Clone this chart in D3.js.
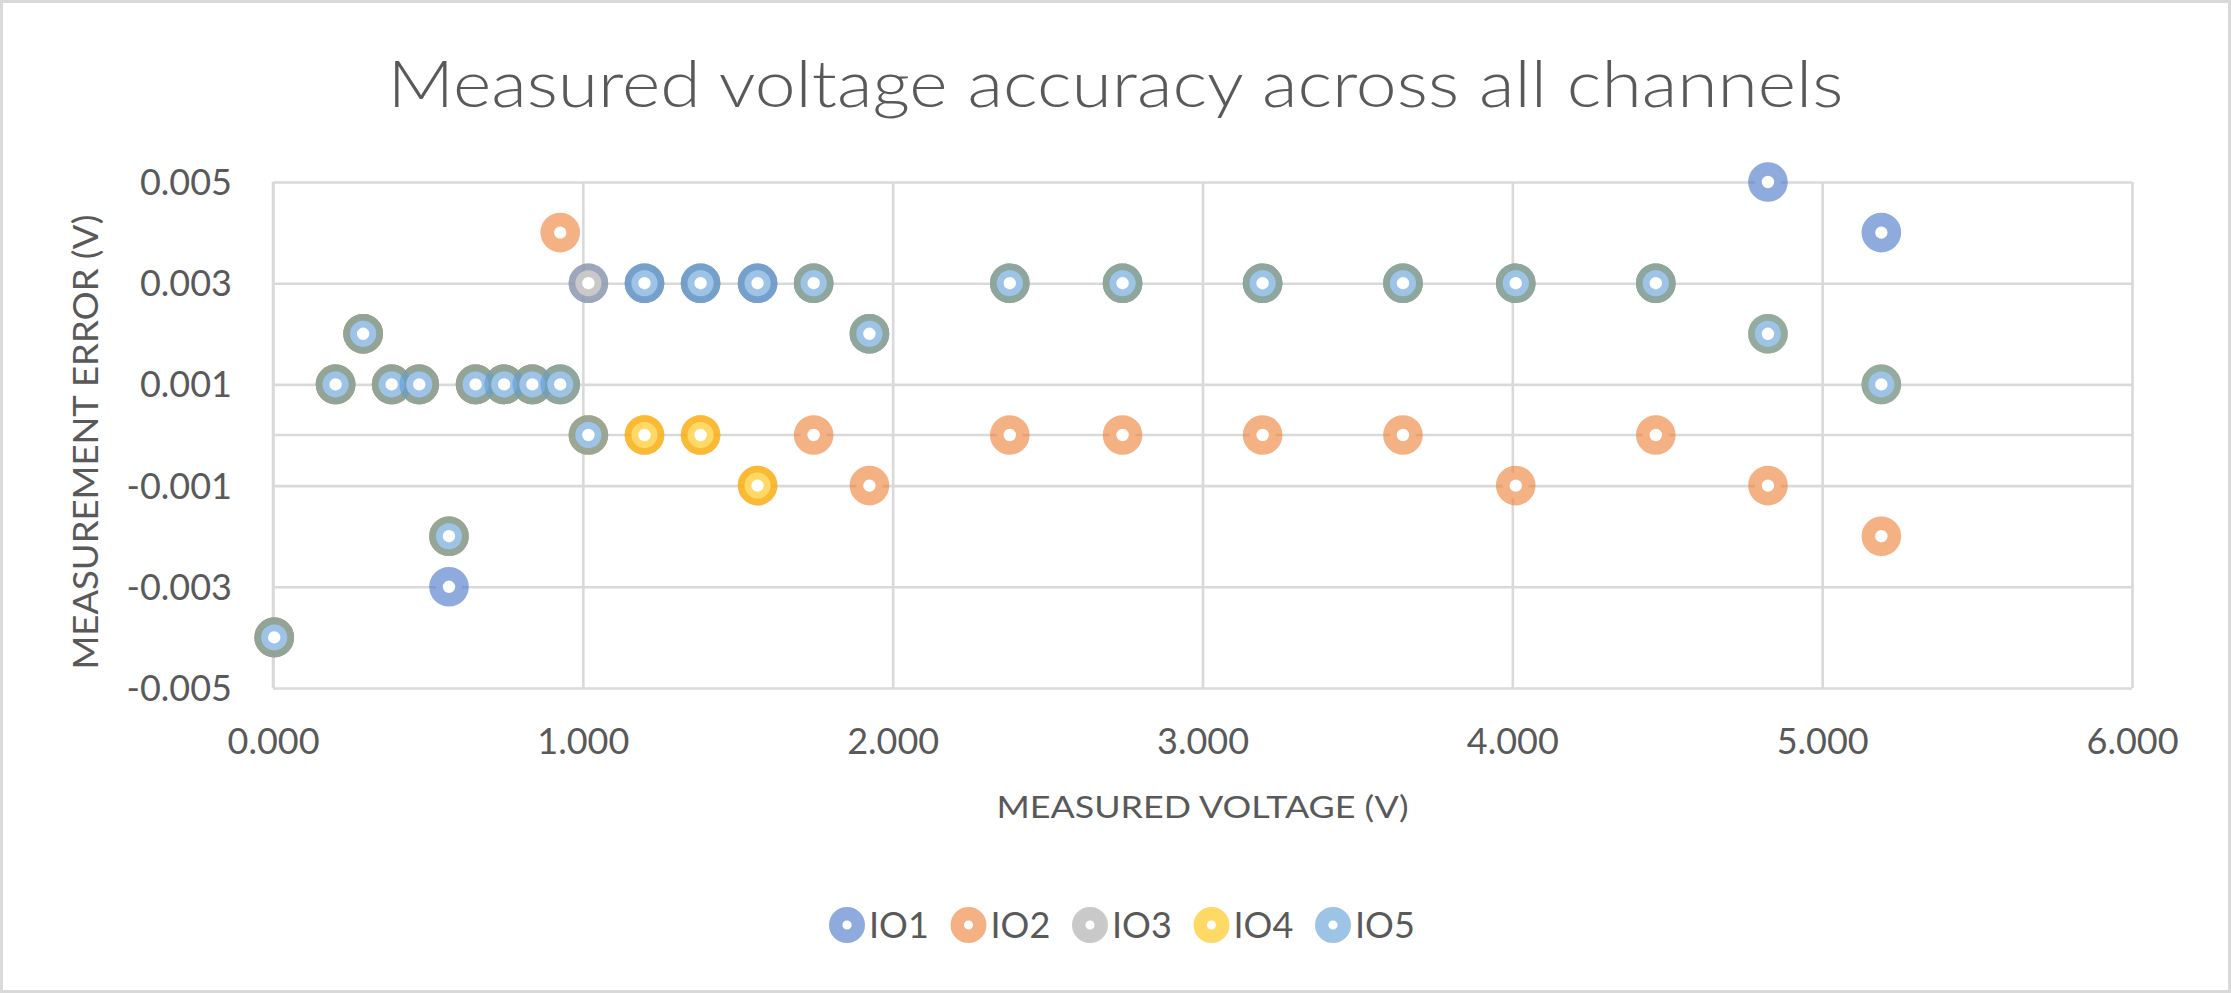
<!DOCTYPE html>
<html>
<head>
<meta charset="utf-8">
<script src="https://cdn.jsdelivr.net/npm/d3@7"></script>
<style>
  body { margin: 0; background: #fff; }
  text { font-family: Lato, "Open Sans", sans-serif; fill: #595959; }
</style>
</head>
<body>
<svg id="chart"></svg>
<script>
const W = 2231, H = 993;

// measured voltage of each test step (V), same for every channel
const voltage = [0.004, 0.202, 0.291, 0.383, 0.472, 0.568, 0.654, 0.746, 0.837, 0.927,
                 1.018, 1.199, 1.380, 1.564, 1.745, 1.925, 2.378, 2.742, 3.194, 3.647,
                 4.011, 4.463, 4.825, 5.191];

// measurement error per channel (V)
const io1 = [-0.004, 0.001, 0.002, 0.001, 0.001, -0.003, 0.001, 0.001, 0.001, 0.001,
             0.003, 0.003, 0.003, 0.003, 0.003, 0.002, 0.003, 0.003, 0.003, 0.003,
             0.003, 0.003, 0.005, 0.004];
const io2 = [-0.004, 0.001, 0.002, 0.001, 0.001, -0.002, 0.001, 0.001, 0.001, 0.004,
             0, 0, 0, -0.001, 0, -0.001, 0, 0, 0, 0,
             -0.001, 0, -0.001, -0.002];
const io3 = [-0.004, 0.001, 0.002, 0.001, 0.001, -0.002, 0.001, 0.001, 0.001, 0.001,
             0.003, 0.003, 0.003, 0.003, 0.003, 0.002, 0.003, 0.003, 0.003, 0.003,
             0.003, 0.003, 0.002, 0.001];
const io4 = [-0.004, 0.001, 0.002, 0.001, 0.001, -0.002, 0.001, 0.001, 0.001, 0.001,
             0, 0, 0, -0.001, 0.003, 0.002, 0.003, 0.003, 0.003, 0.003,
             0.003, 0.003, 0.002, 0.001];
const io5 = [-0.004, 0.001, 0.002, 0.001, 0.001, -0.002, 0.001, 0.001, 0.001, 0.001,
             0, 0.003, 0.003, 0.003, 0.003, 0.002, 0.003, 0.003, 0.003, 0.003,
             0.003, 0.003, 0.002, 0.001];

const seriesNames = ["IO1", "IO2", "IO3", "IO4", "IO5"];
const seriesValues = [io1, io2, io3, io4, io5];
const seriesColors = ["#4472C4", "#ED7D31", "#A5A5A5", "#FFC000", "#5B9BD5"];

const xTicks = [0, 1, 2, 3, 4, 5, 6];
const yTicks = [-0.005, -0.003, -0.001, 0.001, 0.003, 0.005];

const title = "Measured voltage accuracy across all channels";
const xTitle = "MEASURED VOLTAGE (V)";
const yTitle = "MEASUREMENT ERROR (V)";

const margin = {left: 273, right: W - 2132, top: 182, bottom: H - 688};
const grid = "#D9D9D9";

const svg = d3.select("#chart").attr("width", W).attr("height", H);

svg.append("rect")
    .attr("x", 1.5).attr("y", 1.5)
    .attr("width", W - 3).attr("height", H - 3)
    .attr("fill", "#fff")
    .attr("stroke", grid)
    .attr("stroke-width", 3);

const x = d3.scaleLinear().domain([0, 6]).range([margin.left, W - margin.right]);
const y = d3.scaleLinear().domain([-0.005, 0.005]).range([H - margin.bottom, margin.top]);

// stretch a text to the width it has in the picture
function fit(sel, w) {
    sel.each(function() {
        const len = this.getComputedTextLength();
        if (Math.abs(len - w) > 2) {
            d3.select(this).attr("textLength", w).attr("lengthAdjust", "spacingAndGlyphs");
        }
    });
}

// gridlines
const gx = svg.append("g")
    .attr("transform", `translate(0,${y.range()[1]})`)
    .call(d3.axisBottom(x).tickValues(xTicks).tickSize(y.range()[0] - y.range()[1]).tickFormat(""));
const gy = svg.append("g")
    .attr("transform", `translate(${x.range()[0]},0)`)
    .call(d3.axisRight(y).tickValues(yTicks).tickSize(x.range()[1] - x.range()[0]).tickFormat(""));
[gx, gy].forEach(g => {
    g.select(".domain").remove();
    g.selectAll(".tick line").attr("stroke", grid).attr("stroke-width", 2.6);
});

// axis lines (horizontal axis crosses at 0)
svg.append("line")
    .attr("x1", x(0)).attr("x2", x(6))
    .attr("y1", y(0)).attr("y2", y(0))
    .attr("stroke", grid).attr("stroke-width", 2.6);
svg.append("line")
    .attr("x1", x(0)).attr("x2", x(0))
    .attr("y1", y(-0.005)).attr("y2", y(0.005))
    .attr("stroke", grid).attr("stroke-width", 2.6);

// tick labels
const xAxis = svg.append("g")
    .attr("transform", `translate(0,${y(-0.005)})`)
    .call(d3.axisBottom(x).tickValues(xTicks).tickSize(0).tickPadding(0).tickFormat(d => d.toFixed(3)));
xAxis.select(".domain").remove();
xAxis.selectAll("text")
    .attr("y", 65.5).attr("dy", null)
    .style("font-size", "36px").style("fill", "#595959")
    .style("font-family", "Lato, sans-serif");

const yAxis = svg.append("g")
    .attr("transform", `translate(${x(0) - 41},0)`)
    .call(d3.axisLeft(y).tickValues(yTicks).tickSize(0).tickPadding(0).tickFormat(d => d.toFixed(3)));
yAxis.select(".domain").remove();
yAxis.selectAll("text")
    .attr("x", 0).attr("dy", "12.5px")
    .style("font-size", "36px").style("fill", "#595959")
    .style("font-family", "Lato, sans-serif");

// markers: white centre, thick translucent ring, drawn series by series
seriesValues.forEach((vals, i) => {
    svg.append("g")
        .selectAll("circle")
        .data(vals.map((v, j) => ({x: voltage[j], y: v})))
        .join("circle")
        .attr("cx", d => x(d.x))
        .attr("cy", d => y(d.y))
        .attr("r", 13)
        .attr("fill", "#fff")
        .attr("stroke", seriesColors[i])
        .attr("stroke-opacity", 0.6)
        .attr("stroke-width", 13.6);
});

// titles
svg.append("text")
    .attr("x", W / 2).attr("y", 107)
    .attr("text-anchor", "middle")
    .style("font-size", "66px").style("font-weight", 300)
    .text(title)
    .call(fit, 1456);

svg.append("text")
    .attr("x", (x.range()[0] + x.range()[1]) / 2).attr("y", 818)
    .attr("text-anchor", "middle")
    .style("font-size", "30px")
    .text(xTitle)
    .call(fit, 412);

svg.append("text")
    .attr("transform", `translate(98,442) rotate(-90)`)
    .attr("text-anchor", "middle")
    .style("font-size", "35px")
    .text(yTitle)
    .call(fit, 455);

// legend
const lx = d3.scalePoint().domain(seriesNames).range([847, 1333]);
const legend = svg.append("g")
    .selectAll("g")
    .data(seriesNames)
    .join("g")
    .attr("transform", d => `translate(${lx(d)},925)`);
legend.append("circle")
    .attr("r", 11.3)
    .attr("fill", "#fff")
    .attr("stroke", (d, i) => seriesColors[i])
    .attr("stroke-opacity", 0.6)
    .attr("stroke-width", 13.4);
legend.append("text")
    .attr("x", 22).attr("y", 12.5)
    .style("font-size", "36px")
    .text(d => d);
</script>
</body>
</html>
